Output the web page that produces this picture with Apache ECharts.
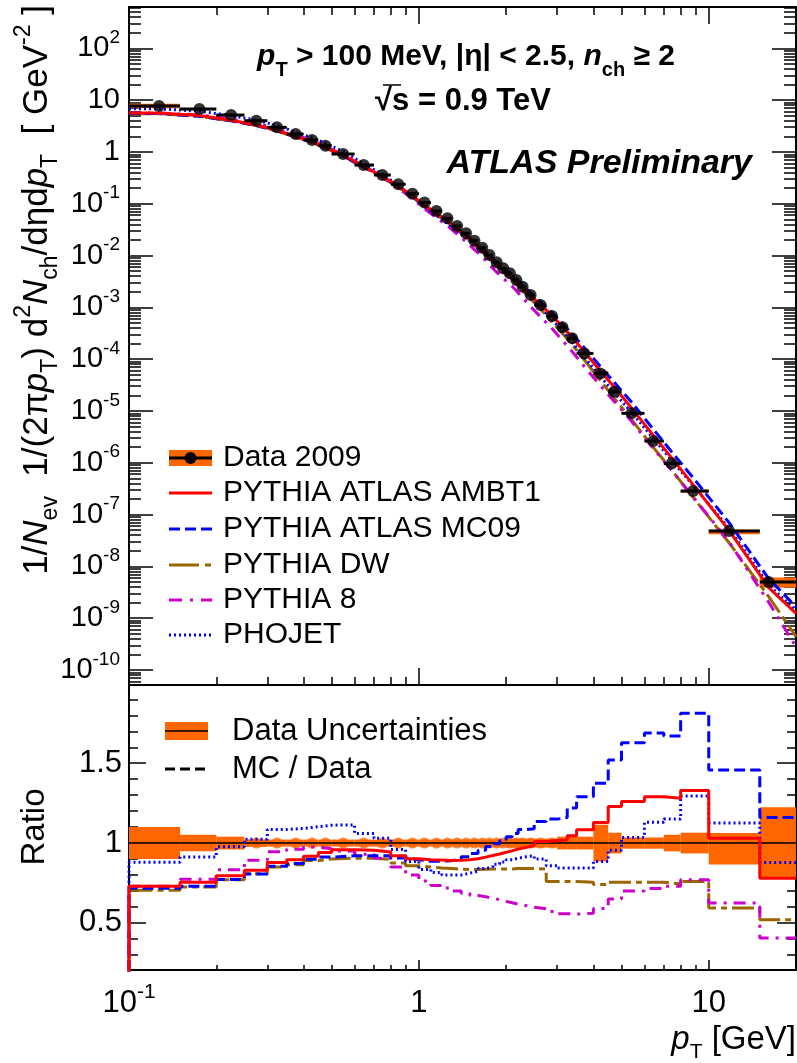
<!DOCTYPE html>
<html><head><meta charset="utf-8">
<script src="https://cdn.jsdelivr.net/npm/echarts@6/dist/echarts.min.js"></script>
<style>html,body{margin:0;padding:0;background:#fff}#c{width:797px;height:1063px}</style>
</head><body><div id="c"></div>
<script>
// ---------------- data ----------------
const binEdges = [0.1,0.15,0.2,0.25,0.3,0.35,0.4,0.45,0.5,0.6,0.7,0.8,0.9,1.0,1.1,1.2,1.3,1.4,1.5,1.6,1.7,1.8,1.9,2.0,2.1,2.2,2.35,2.5,2.75,3.0,3.25,3.5,4.0,4.5,5.0,6.0,7.0,8.0,10,15,20];
const dataPt = [0.127,0.175,0.225,0.275,0.324,0.376,0.428,0.476,0.548,0.645,0.748,0.849,0.95,1.045,1.15,1.255,1.355,1.455,1.555,1.655,1.752,1.855,1.955,2.06,2.17,2.28,2.43,2.63,2.88,3.13,3.38,3.72,4.22,4.72,5.42,6.44,7.45,8.83,11.75,16.1];
const dataVal = [7.7,6.7,5.15,4.0,2.98,2.21,1.70,1.32,0.91,0.558,0.358,0.237,0.156,0.105,0.0723,0.0522,0.0372,0.0269,0.0193,0.01416,0.0102,0.0074,0.00566,0.00453,0.00337,0.0025,0.00173,0.00111,0.000679,0.000411,0.000252,0.000129,5.3e-5,2.35e-5,9.0e-6,2.62e-6,9.7e-7,2.84e-7,4.8e-8,5.0e-9];
// relative data uncertainty (down / up)
const uncLo = [0.10,0.052,0.04,0.024,0.022,0.022,0.022,0.022,0.022,0.022,0.022,0.022,0.022,0.022,0.022,0.022,0.022,0.022,0.022,0.022,0.022,0.022,0.022,0.028,0.028,0.028,0.028,0.028,0.028,0.04,0.04,0.04,0.115,0.065,0.035,0.035,0.052,0.065,0.135,0.225];
const uncHi = [0.10,0.052,0.04,0.024,0.022,0.022,0.022,0.022,0.022,0.022,0.022,0.022,0.022,0.022,0.022,0.022,0.022,0.022,0.022,0.022,0.022,0.022,0.022,0.028,0.028,0.028,0.028,0.028,0.028,0.04,0.04,0.04,0.115,0.065,0.035,0.035,0.052,0.065,0.063,0.225];
// MC / Data ratios per bin
const ratioAMBT1 = [0.729,0.754,0.796,0.829,0.879,0.896,0.917,0.941,0.958,0.955,0.944,0.921,0.902,0.896,0.894,0.891,0.892,0.896,0.902,0.912,0.922,0.932,0.942,0.952,0.962,0.973,0.985,1.01,1.016,1.02,1.046,1.083,1.129,1.229,1.26,1.29,1.28,1.33,1.03,0.78];
const ratioMC09 = [0.717,0.73,0.772,0.806,0.855,0.872,0.898,0.912,0.92,0.921,0.921,0.906,0.896,0.886,0.886,0.89,0.90,0.915,0.935,0.955,0.978,0.995,1.015,1.04,1.06,1.085,1.09,1.135,1.15,1.16,1.219,1.29,1.375,1.52,1.629,1.69,1.67,1.8125,1.458,1.16];
const ratioDW = [0.704,0.725,0.771,0.808,0.85,0.864,0.891,0.9,0.905,0.905,0.898,0.875,0.858,0.85,0.844,0.84,0.836,0.834,0.834,0.836,0.838,0.838,0.838,0.838,0.84,0.84,0.84,0.838,0.76,0.76,0.76,0.755,0.74,0.754,0.754,0.754,0.745,0.76,0.594,0.52];
const ratioP8 = [0.729,0.773,0.833,0.893,0.946,0.962,0.975,0.965,0.95,0.93,0.905,0.85,0.80,0.762,0.735,0.718,0.70,0.685,0.672,0.664,0.655,0.645,0.635,0.626,0.618,0.608,0.598,0.588,0.572,0.558,0.555,0.56,0.59,0.65,0.70,0.715,0.73,0.77,0.625,0.406];
const ratioPHOJET = [0.88,0.913,0.977,1.024,1.085,1.092,1.102,1.112,1.114,1.06,1.03,0.96,0.885,0.835,0.815,0.80,0.80,0.812,0.823,0.84,0.852,0.868,0.882,0.895,0.905,0.915,0.92,0.9,0.858,0.844,0.844,0.844,0.885,0.955,1.035,1.13,1.15,1.295,1.125,0.879];
// MC spectra at the right frame edge (pT = 20 GeV)
const mcAt20 = {AMBT1:1.24e-9, MC09:1.66e-9, DW:4.4e-10, P8:2.8e-10, PHOJET:1.4e-9};
// axis ticks
const xTickVals = [0.1,1,10];
const yTickVals = [1e2,1e1,1,1e-1,1e-2,1e-3,1e-4,1e-5,1e-6,1e-7,1e-8,1e-9,1e-10];
const ratioTickVals = [0.5,1,1.5];
const ratioMinorVals = [0.3,0.4,0.6,0.7,0.8,0.9,1.1,1.2,1.3,1.4,1.6,1.7,1.8,1.9];

// ---------------- helpers ----------------
const FONT = '"Liberation Sans", Arial, Helvetica, sans-serif';
const ORANGE = '#ff6600', RED = '#ff0000', BLUE = '#0000ff', BROWN = '#996600', MAG = '#cc00cc';
const xMinorVals = [];
[0.1,1,10].forEach(d => { for (let k = 2; k <= 9; k++) xMinorVals.push(+(k*d).toPrecision(3)); });
const yMinorVals = [];
for (let e = -11; e <= 2; e++) for (let k = 2; k <= 9; k++) yMinorVals.push(k*Math.pow(10,e));
const lg = Math.log10;

const X_MIN = 0.1, X_MAX = 20;
const Y_MIN = Math.pow(10,-10.29), Y_MAX = Math.pow(10,2.797);
const R_MIN = 0.205, R_MAX = 1.99;

function powLabel(v) {
  const e = Math.round(Math.log10(v));
  if (e === 0) return '{m|1}';
  if (e === 1) return '{m|10}';
  return '{m|10}{s|' + e + '}';
}
function expLabel(e) {
  e = Math.round(e);
  if (e === 0) return '{m|1}';
  if (e === 1) return '{m|10}';
  return '{m|10}{s|' + e + '}';
}
const tickLine = {color:'#000', width:1.5};
const noLine = {show:false};
function axisBase(o) {
  return Object.assign({splitLine:{show:false}, minorTick:{show:false}, axisPointer:{show:false}}, o);
}
// log x axis carrying the series (frame line only)
function xLogDef(grid, pos) {
  return axisBase({type:'log', logBase:10, gridIndex:grid, position:pos, min:X_MIN, max:X_MAX,
    axisLine:{show:true, onZero:false, lineStyle:{color:'#000', width:2}},
    axisTick:{show:false}, axisLabel:{show:false}});
}
// decoration axis in log10(pT) space, same span as the log axis
function xDecoDef(grid, pos, ticks, len, label) {
  return axisBase({type:'value', gridIndex:grid, position:pos, min:lg(X_MIN), max:lg(X_MAX),
    axisLine:{show:false, onZero:false},
    axisTick:{show:true, inside:true, length:len, customValues:ticks.map(lg), lineStyle:tickLine},
    axisLabel: label || {show:false}});
}
function yLogDef(pos, ticks, len, line, label) {
  return axisBase({type:'log', logBase:10, gridIndex:0, position:pos, min:Y_MIN, max:Y_MAX,
    axisLine:{show:line, onZero:false, lineStyle:{color:'#000', width:2}},
    axisTick:{show:true, inside:true, length:len, customValues:ticks, lineStyle:tickLine},
    axisLabel: label || {show:false}});
}
function yRatioDef(pos, ticks, len, line, label) {
  return axisBase({type:'value', gridIndex:1, position:pos, min:R_MIN, max:R_MAX,
    axisLine:{show:line, onZero:false, lineStyle:{color:'#000', width:2}},
    axisTick:{show:true, inside:true, length:len, customValues:ticks, lineStyle:tickLine},
    axisLabel: label || {show:false}});
}

// ---------------- series data built from the arrays ----------------
const nb = dataVal.length;
const boxData = [], barData = [], bandData = [];
for (let i = 0; i < nb; i++) {
  boxData.push([binEdges[i], binEdges[i+1], dataVal[i]*(1-uncLo[i]), dataVal[i]*(1+uncHi[i])]);
  barData.push([binEdges[i], binEdges[i+1], dataVal[i]]);
  bandData.push([binEdges[i], binEdges[i+1], 1-uncLo[i], 1+uncHi[i]]);
}
const dotData = dataPt.map((x,i) => [x, dataVal[i]]);
const blobData = dataPt.map(x => [x, 1]);
function mcSpectrum(ratio, tail) {
  const out = [[binEdges[0], dataVal[0]*ratio[0]]];
  for (let i = 0; i < nb; i++) out.push([dataPt[i], dataVal[i]*ratio[i]]);
  out.push([binEdges[nb], tail]);
  return out;
}
function ratioSteps(ratio) {
  const out = [[binEdges[0], 0]];
  for (let i = 0; i < nb; i++) out.push([binEdges[i], ratio[i]]);
  out.push([binEdges[nb], ratio[nb-1]]);
  return out;
}
const models = [
  {name:'PYTHIA DW', ratio:ratioDW, tail:mcAt20.DW, color:BROWN, dash:[22,5,6,5]},
  {name:'PYTHIA 8', ratio:ratioP8, tail:mcAt20.P8, color:MAG, dash:[12,7,3,7]},
  {name:'PHOJET', ratio:ratioPHOJET, tail:mcAt20.PHOJET, color:BLUE, dash:[2,3]},
  {name:'PYTHIA ATLAS MC09', ratio:ratioMC09, tail:mcAt20.MC09, color:BLUE, dash:[11,5]},
  {name:'PYTHIA ATLAS AMBT1', ratio:ratioAMBT1, tail:mcAt20.AMBT1, color:RED, dash:'solid'}
];

function rectItem(params, api) {
  const a = api.coord([api.value(0), api.value(3)]);
  const b = api.coord([api.value(1), api.value(2)]);
  return {type:'rect', shape:{x:a[0], y:a[1], width:b[0]-a[0], height:b[1]-a[1]}, style:{fill:ORANGE}};
}
function hbarItem(params, api) {
  const a = api.coord([api.value(0), api.value(2)]);
  const b = api.coord([api.value(1), api.value(2)]);
  return {type:'line', shape:{x1:a[0], y1:a[1], x2:b[0], y2:b[1]}, style:{stroke:'#000', lineWidth:3}};
}

const UX = 0, LX = 5; // series x axes (upper / lower)
const series = [];
series.push({type:'custom', xAxisIndex:UX, yAxisIndex:0, data:boxData, renderItem:rectItem, silent:true, z:2});
models.forEach(m => series.push({type:'line', name:m.name, xAxisIndex:UX, yAxisIndex:0, data:mcSpectrum(m.ratio, m.tail),
  showSymbol:false, symbol:'none', lineStyle:{color:m.color, width:3, type:m.dash}, silent:true, z:3}));
series.push({type:'custom', xAxisIndex:UX, yAxisIndex:0, data:barData, renderItem:hbarItem, silent:true, z:4});
series.push({type:'scatter', xAxisIndex:UX, yAxisIndex:0, data:dotData, symbol:'circle', symbolSize:12, itemStyle:{color:'#000'}, silent:true, z:5});
// ratio panel
series.push({type:'custom', xAxisIndex:LX, yAxisIndex:4, data:bandData, renderItem:rectItem, silent:true, z:2});
series.push({type:'scatter', xAxisIndex:LX, yAxisIndex:4, data:blobData, symbol:'circle', symbolSize:11, itemStyle:{color:ORANGE}, silent:true, z:2});
series.push({type:'line', xAxisIndex:LX, yAxisIndex:4, data:[[X_MIN,1],[X_MAX,1]], showSymbol:false, symbol:'none', lineStyle:{color:'#000', width:1.5}, silent:true, z:3});
models.forEach(m => series.push({type:'line', xAxisIndex:LX, yAxisIndex:4, data:ratioSteps(m.ratio), step:'end', clip:true,
  showSymbol:false, symbol:'none', lineStyle:{color:m.color, width:3, type:m.dash}, silent:true, z:4}));

const upLabel = {show:true, customValues:yTickVals, formatter:powLabel, margin:9, color:'#000',
  rich:{m:{fontFamily:FONT, fontSize:29, color:'#000', lineHeight:40}, s:{fontFamily:FONT, fontSize:19, color:'#000', verticalAlign:'top'}}};
const ratioLabel = {show:true, customValues:ratioTickVals, margin:7, color:'#000', fontFamily:FONT, fontSize:31,
  formatter: v => String(v)};
const xLabel = {show:true, customValues:xTickVals.map(lg), formatter:expLabel, margin:12, color:'#000',
  rich:{m:{fontFamily:FONT, fontSize:31, color:'#000', lineHeight:42}, s:{fontFamily:FONT, fontSize:21, color:'#000', verticalAlign:'top'}}};

// ---------------- legend / text graphics ----------------
const legUp = [
  {label:'Data 2009', y:458},
  {label:'PYTHIA ATLAS AMBT1', y:493, color:RED, dash:null},
  {label:'PYTHIA ATLAS MC09', y:529, color:BLUE, dash:[11,5]},
  {label:'PYTHIA DW', y:565, color:BROWN, dash:[30,6,6,6]},
  {label:'PYTHIA 8', y:600, color:MAG, dash:[13,8,3,8]},
  {label:'PHOJET', y:635, color:BLUE, dash:[2,3]}
];
const graphic = [];
legUp.forEach((e, i) => {
  if (i === 0) {
    graphic.push({type:'rect', shape:{x:169, y:e.y-8, width:43, height:16}, style:{fill:ORANGE}});
    graphic.push({type:'line', shape:{x1:169, y1:e.y, x2:212, y2:e.y}, style:{stroke:'#000', lineWidth:3}});
    graphic.push({type:'circle', shape:{cx:190.5, cy:e.y, r:6}, style:{fill:'#000'}});
  } else {
    graphic.push({type:'line', shape:{x1:169, y1:e.y, x2:212, y2:e.y}, style:{stroke:e.color, lineWidth:3, lineDash:e.dash}});
  }
  graphic.push({type:'text', x:223, y:e.y, style:{text:e.label, fontFamily:FONT, fontSize:30, fill:'#000', textAlign:'left', textVerticalAlign:'middle'}});
});
// lower legend
graphic.push({type:'rect', shape:{x:165, y:722, width:43, height:18}, style:{fill:ORANGE}});
graphic.push({type:'line', shape:{x1:165, y1:731, x2:208, y2:731}, style:{stroke:'#000', lineWidth:1.5}});
graphic.push({type:'text', x:232, y:731, style:{text:'Data Uncertainties', fontFamily:FONT, fontSize:31, fill:'#000', textAlign:'left', textVerticalAlign:'middle'}});
graphic.push({type:'line', shape:{x1:165, y1:769, x2:208, y2:769}, style:{stroke:'#000', lineWidth:3, lineDash:[10,5]}});
graphic.push({type:'text', x:232, y:769, style:{text:'MC / Data', fontFamily:FONT, fontSize:31, fill:'#000', textAlign:'left', textVerticalAlign:'middle'}});
// header texts
graphic.push({type:'text', x:466, y:57, style:{
  text:'{bi|p}{sub|T}{b| > 100 MeV, |η| < 2.5, }{bi|n}{sub|ch}{b| ≥ 2}',
  textAlign:'center', textVerticalAlign:'middle',
  rich:{b:{fontFamily:FONT, fontWeight:'bold', fontSize:30, lineHeight:46, fill:'#000'},
        bi:{fontFamily:FONT, fontWeight:'bold', fontStyle:'italic', fontSize:30, lineHeight:46, fill:'#000'},
        sub:{fontFamily:FONT, fontWeight:'bold', fontSize:20, verticalAlign:'bottom', fill:'#000'}}}});
graphic.push({type:'text', x:463, y:101, style:{text:'√s = 0.9 TeV', fontFamily:FONT, fontWeight:'bold', fontSize:31, fill:'#000', textAlign:'center', textVerticalAlign:'middle'}});
graphic.push({type:'line', shape:{x1:383, y1:85, x2:401, y2:85}, style:{stroke:'#000', lineWidth:1.5}});
graphic.push({type:'text', x:752, y:164, style:{text:'ATLAS Preliminary', fontFamily:FONT, fontWeight:'bold', fontStyle:'italic', fontSize:34, fill:'#000', textAlign:'right', textVerticalAlign:'middle'}});
// axis titles
graphic.push({type:'text', x:37, y:5, rotation:Math.PI/2, style:{
  text:'{n|1/}{i|N}{sub|ev}{n|  1/(2π}{i|p}{sub|T}{n|) d}{sup|2}{i|N}{sub|ch}{n|/dηd}{i|p}{sub|T}{n|  [ GeV}{sup|-2}{n| ]}',
  textAlign:'right', textVerticalAlign:'middle',
  rich:{n:{fontFamily:FONT, fontSize:35, lineHeight:50, fill:'#000'},
        i:{fontFamily:FONT, fontStyle:'italic', fontSize:35, lineHeight:50, fill:'#000'},
        sub:{fontFamily:FONT, fontSize:23, verticalAlign:'bottom', fill:'#000'},
        sup:{fontFamily:FONT, fontSize:23, verticalAlign:'top', fill:'#000'}}}});
graphic.push({type:'text', x:35, y:827, rotation:Math.PI/2, style:{text:'Ratio', fontFamily:FONT, fontSize:33, fill:'#000', textAlign:'center', textVerticalAlign:'middle'}});
graphic.push({type:'text', x:796, y:1040, style:{
  text:'{i|p}{sub|T}{n| [GeV]}', textAlign:'right', textVerticalAlign:'middle',
  rich:{n:{fontFamily:FONT, fontSize:33, lineHeight:46, fill:'#000'},
        i:{fontFamily:FONT, fontStyle:'italic', fontSize:33, lineHeight:46, fill:'#000'},
        sub:{fontFamily:FONT, fontSize:21, verticalAlign:'bottom', fill:'#000'}}}});

const option = {
  animation:false,
  backgroundColor:'#fff',
  grid:[{left:129, top:7, width:667, height:678}, {left:129, top:685, width:667, height:285}],
  xAxis:[
    xLogDef(0,'bottom'),                       // 0 upper series axis
    xDecoDef(0,'bottom',xTickVals,17),         // 1
    xDecoDef(0,'bottom',xMinorVals,8),         // 2
    xDecoDef(0,'top',xTickVals,17),            // 3
    Object.assign(xDecoDef(0,'top',xMinorVals,8), {axisLine:{show:true, onZero:false, lineStyle:{color:'#000', width:2}}}), // 4
    xLogDef(1,'bottom'),                       // 5 lower series axis
    xDecoDef(1,'bottom',xTickVals,10,xLabel),  // 6
    xDecoDef(1,'bottom',xMinorVals.concat([20]),5) // 7
  ],
  yAxis:[
    yLogDef('left',yTickVals,24,true,upLabel),
    yLogDef('left',yMinorVals,12,false),
    yLogDef('right',yTickVals,24,true),
    yLogDef('right',yMinorVals,12,false),
    yRatioDef('left',ratioTickVals,17,true,ratioLabel),
    yRatioDef('left',ratioMinorVals,9,false),
    yRatioDef('right',ratioTickVals,19,true),
    yRatioDef('right',ratioMinorVals,9,false)
  ],
  series:series,
  graphic:graphic
};
const chart = echarts.init(document.getElementById('c'), null, {renderer:'canvas', width:797, height:1063});
chart.setOption(option);
</script>
</body></html>
